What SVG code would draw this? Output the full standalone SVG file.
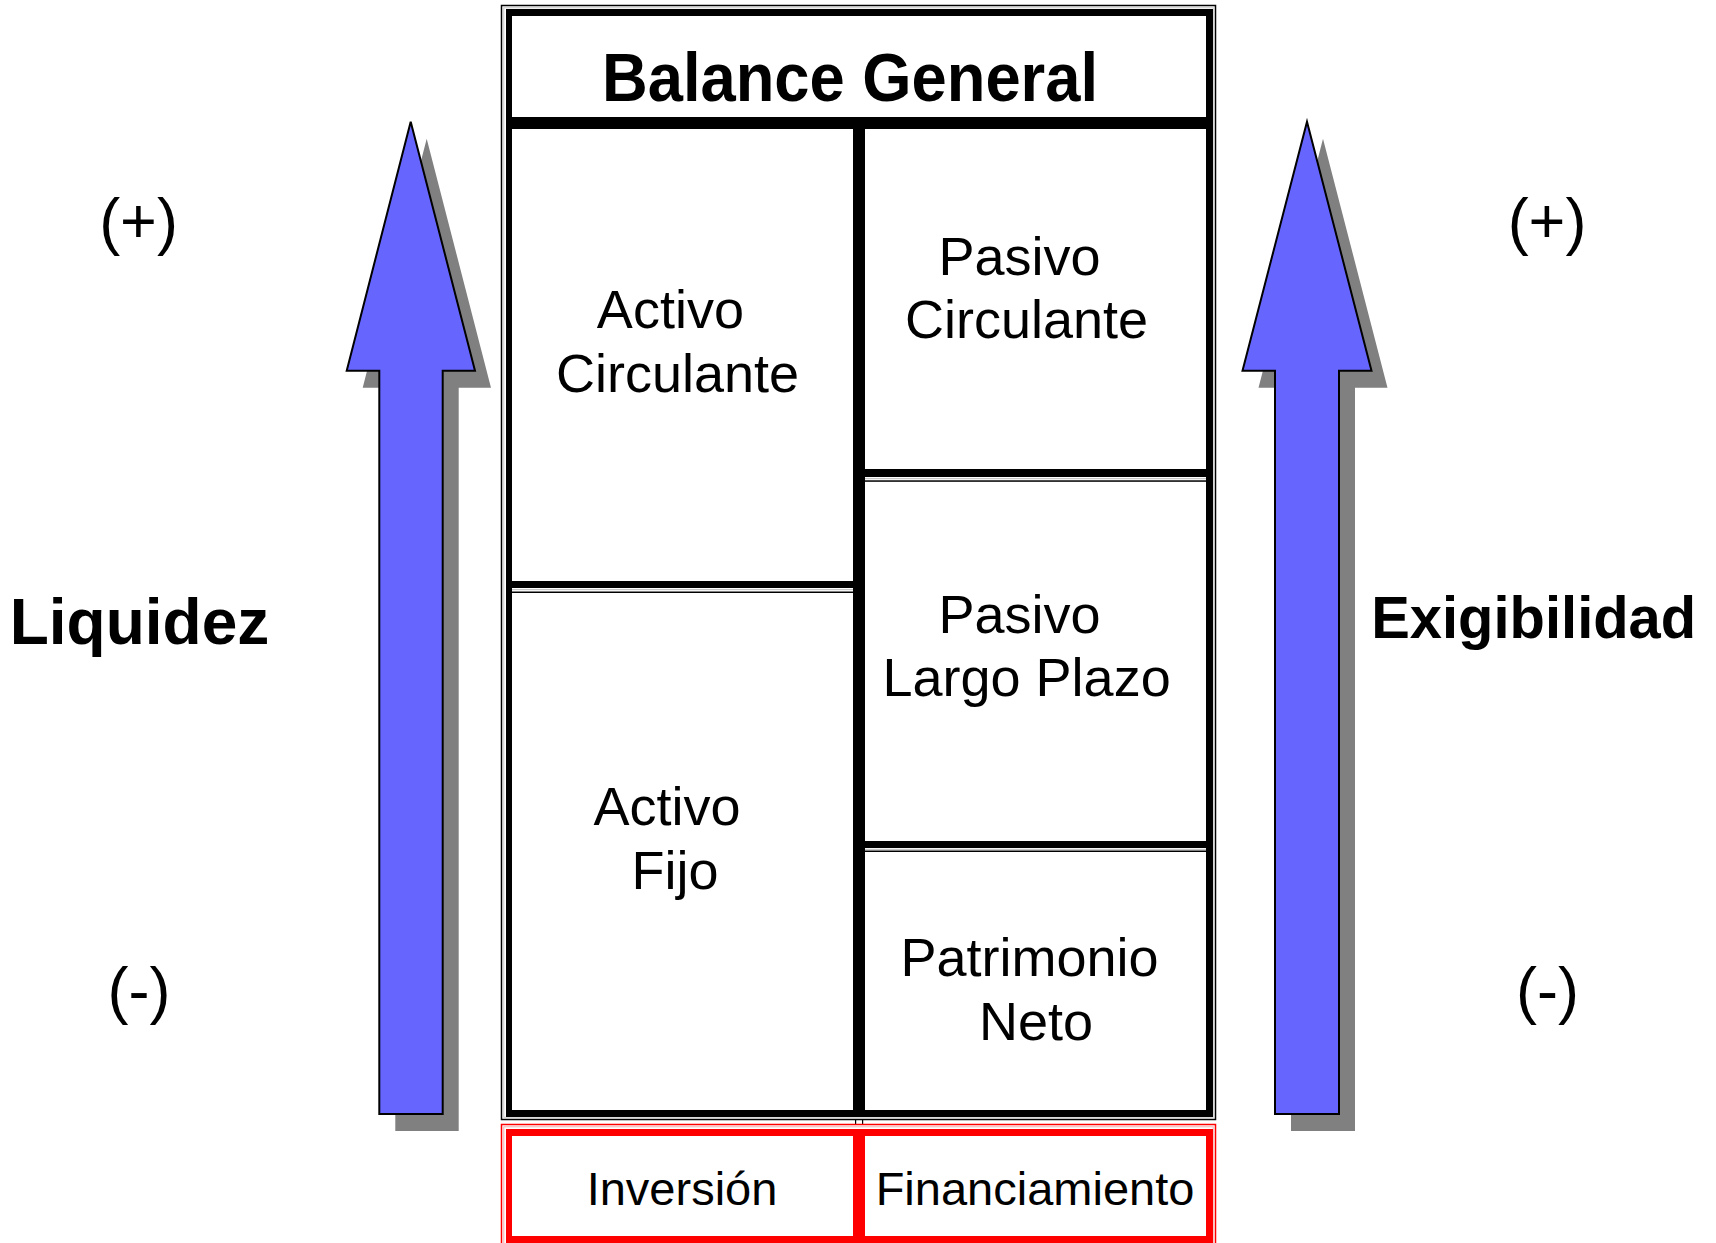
<svg xmlns="http://www.w3.org/2000/svg" width="1716" height="1243" viewBox="0 0 1716 1243">
<style>
  .t{font-family:"Liberation Sans",Arial,sans-serif;fill:#000;text-anchor:middle}
  .cell{font-size:54px}
  .bold{font-weight:bold}
  .pm{font-size:63px}
  .foot{font-size:47px}
  .blk{fill:#000}
  .red{fill:#FF0000}
  .arrow{fill:#6666FF;stroke:#000;stroke-width:2;stroke-linejoin:miter}
  .shadow{fill:#808080}
</style>
<defs>
  <path id="arrowL" d="M410.7,121.7 L475,370.7 L442.7,370.7 L442.7,1114 L379.3,1114 L379.3,370.7 L346.7,370.7 Z"/>
  <path id="arrowR" d="M1307,121.7 L1371.5,370.7 L1339,370.7 L1339,1114 L1275,1114 L1275,370.7 L1242.5,370.7 Z"/>
</defs>
<rect width="1716" height="1243" fill="#fff"/>

<g id="arrows">
  <use href="#arrowL" class="shadow" transform="translate(16,17)"/>
  <use href="#arrowL" class="arrow"/>
  <use href="#arrowR" class="shadow" transform="translate(16,17)"/>
  <use href="#arrowR" class="arrow"/>
</g>

<g id="frame">
  <rect x="501.5" y="5.5" width="714" height="1114" fill="none" stroke="#000" stroke-width="1.5"/>
  <rect x="503.8" y="7.8" width="709.4" height="1109.4" fill="none" stroke="#c8c8c8" stroke-width="1"/>
  <rect class="blk" x="506" y="9" width="707" height="7"/>
  <rect class="blk" x="506" y="9" width="6" height="1108"/>
  <rect class="blk" x="1206" y="9" width="7" height="1108"/>
  <rect class="blk" x="506" y="117" width="707" height="12"/>
  <rect class="blk" x="853" y="117" width="12" height="1000"/>
  <rect class="blk" x="512" y="581" width="341" height="7"/>
  <rect x="512" y="589" width="341" height="1.2" fill="#c8c8c8"/>
  <rect class="blk" x="512" y="591.5" width="341" height="1.5"/>
  <rect class="blk" x="865" y="469" width="341" height="8"/>
  <rect x="865" y="478" width="341" height="1.2" fill="#c8c8c8"/>
  <rect class="blk" x="865" y="480.3" width="341" height="1.5"/>
  <rect class="blk" x="865" y="841" width="341" height="7"/>
  <rect x="865" y="848.8" width="341" height="1.2" fill="#c8c8c8"/>
  <rect class="blk" x="865" y="850.5" width="341" height="1.5"/>
  <rect class="blk" x="506" y="1110" width="707" height="7"/>
  <rect class="blk" x="855" y="1119" width="1.2" height="6"/>
  <rect class="blk" x="862" y="1119" width="1.2" height="6"/>
</g>

<g id="title">
  <text class="t bold" x="850" y="100.5" font-size="68" textLength="496" lengthAdjust="spacingAndGlyphs">Balance General</text>
</g>
<g id="activo-circulante">
  <text class="t cell" x="670.4" y="328">Activo</text>
  <text class="t cell" x="677.5" y="392">Circulante</text>
</g>
<g id="activo-fijo">
  <text class="t cell" x="667" y="825">Activo</text>
  <text class="t cell" x="675" y="888.6">Fijo</text>
</g>
<g id="pasivo-circulante">
  <text class="t cell" x="1019.5" y="274.7">Pasivo</text>
  <text class="t cell" x="1026.6" y="338">Circulante</text>
</g>
<g id="pasivo-largo-plazo">
  <text class="t cell" x="1019.6" y="632.6">Pasivo</text>
  <text class="t cell" x="1026.6" y="696">Largo Plazo</text>
</g>
<g id="patrimonio-neto">
  <text class="t cell" x="1029.5" y="976">Patrimonio</text>
  <text class="t cell" x="1036" y="1039.7">Neto</text>
</g>

<g id="footer-frame">
  <rect x="501.5" y="1124.5" width="714" height="130" fill="none" stroke="#FF0000" stroke-width="1.5"/>
  <rect x="503.8" y="1126.8" width="709.4" height="130" fill="none" stroke="#f4b0b0" stroke-width="1"/>
  <rect class="red" x="506" y="1129" width="707" height="7"/>
  <rect class="red" x="506" y="1129" width="6" height="114"/>
  <rect class="red" x="1206" y="1129" width="7" height="114"/>
  <rect class="red" x="853" y="1129" width="12" height="114"/>
  <rect class="red" x="506" y="1236" width="707" height="7"/>
</g>
<g id="inversion">
  <text class="t foot" x="682" y="1205">Inversión</text>
</g>
<g id="financiamiento">
  <text class="t foot" x="1035" y="1205">Financiamiento</text>
</g>

<g id="left-labels">
  <text class="t pm" x="138.5" y="243">(+)</text>
  <text class="t bold" x="139.5" y="643.5" font-size="64">Liquidez</text>
  <text class="t pm" x="139" y="1012">(-)</text>
</g>
<g id="right-labels">
  <text class="t pm" x="1547" y="243">(+)</text>
  <text class="t bold" x="1533.7" y="638" font-size="60" textLength="325" lengthAdjust="spacingAndGlyphs">Exigibilidad</text>
  <text class="t pm" x="1547.5" y="1012">(-)</text>
</g>
</svg>
